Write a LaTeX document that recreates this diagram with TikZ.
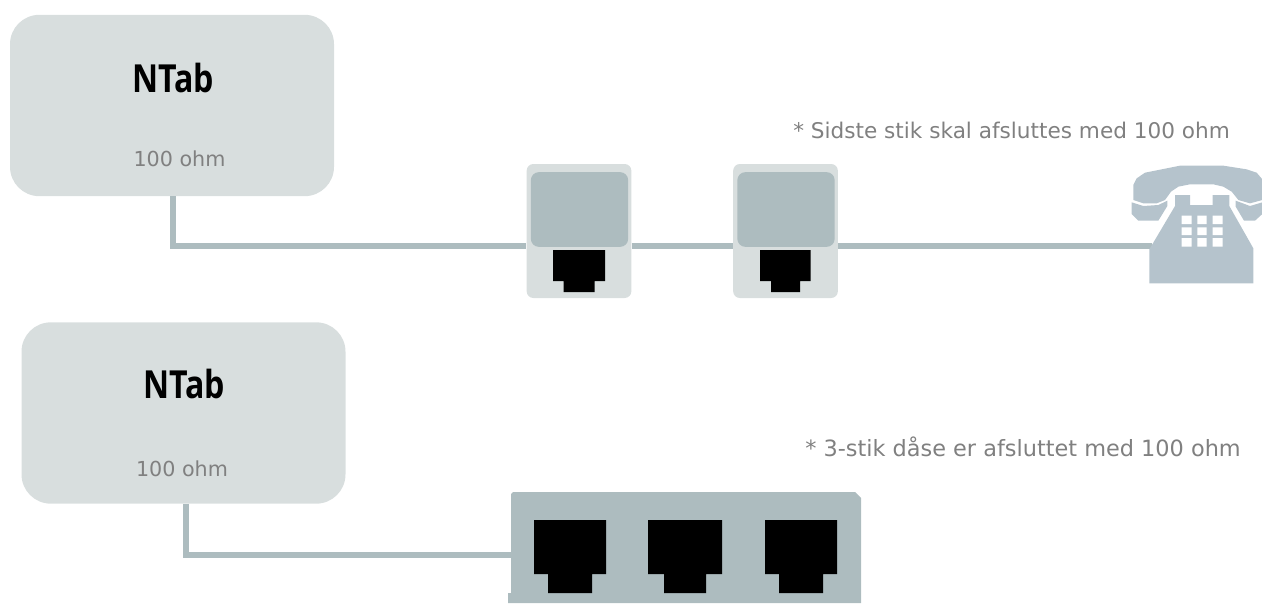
\documentclass[tikz,border=0pt]{standalone}
\usepackage{fontspec}
\setmainfont{DejaVu Sans}
\newfontfamily\titlefont[FakeStretch=0.83]{Open Sans}
\definecolor{boxlight}{HTML}{D8DEDE}
\definecolor{boxdark}{HTML}{ADBCBF}
\definecolor{phonecol}{HTML}{B5C3CC}
\definecolor{txtgray}{HTML}{808080}
\tikzset{
  x=0.75pt,y=-0.75pt,
  ntabbox/.style={fill=boxlight,draw=none,rounded corners=22pt,minimum width=243pt,minimum height=136pt,inner sep=0pt},
  jackbox/.style={fill=boxlight,draw=none,rounded corners=5pt,minimum width=78.5pt,minimum height=100.5pt,inner sep=0pt},
  panel/.style={fill=boxdark,draw=none,rounded corners=6pt,minimum width=73pt,minimum height=56pt,inner sep=0pt},
  wire/.style={draw=boxdark,line width=4.5pt},
  title/.style={font=\titlefont\bfseries\fontsize{29}{32}\selectfont,text=black,inner sep=0pt,anchor=base},
  ohm/.style={font=\fontsize{15.5}{18}\selectfont,text=txtgray,inner sep=0pt,anchor=base},
  note/.style={font=\fontsize{16.2}{19}\selectfont,text=txtgray,inner sep=0pt,anchor=base west},
  noteb/.style={font=\fontsize{16.8}{19}\selectfont,text=txtgray,inner sep=0pt,anchor=base west},
  jackfill/.style={fill=black,draw=none}
}
\newcommand{\jackshape}[7]{% x1 x2 x3 x4 y1 y2 y3
  \fill[jackfill] (#1,#5) -- (#4,#5) -- (#4,#6) -- (#3,#6) -- (#3,#7) -- (#2,#7) -- (#2,#6) -- (#1,#6) -- cycle;}
\begin{document}
\begin{tikzpicture}
\useasboundingbox (0,0) rectangle (1262,603);
% nodes
\node[ntabbox] (ntabA) at (172,105.5) {};
\node[ntabbox] (ntabB) at (183.5,413) {};
\node[jackbox] (jackA) at (579,231) {};
\node[jackbox] (jackB) at (785.5,231) {};
\coordinate (cornerA) at (173,245.5);
\coordinate (cornerB) at (185.5,555);
\coordinate (phone) at (1152,245.5);
% three-socket box
\fill[boxdark] (511,494) -- (513,492) -- (855,492) -- (861,498) -- (861,603) -- (508,603) -- (508,593) -- (511,593) -- cycle;
\coordinate (multi) at (511,555);
% wires
\draw[wire] (ntabA.south -| cornerA) -- (cornerA) -- (cornerA -| jackA.west);
\draw[wire] (jackA.east |- cornerA) -- (jackB.west |- cornerA);
\draw[wire] (jackB.east |- cornerA) -- (phone);
\draw[wire] (ntabB.south -| cornerB) -- (cornerB) -- (multi);
% jack panels
\node[panel] (panelA) at (579.5,209.5) {};
\node[panel] (panelB) at (786,209.5) {};
\jackshape{553}{563.5}{594.5}{605}{250}{281}{292}
\jackshape{760}{771}{800}{810.5}{250}{281}{292}
\jackshape{534}{548}{592}{606}{520}{574}{593}
\jackshape{648}{664}{706}{722}{520}{574}{593}
\jackshape{765}{779}{823}{837}{520}{574}{593}
% telephone
\begin{scope}[shift={(1090,150)},x=0.25pt,y=-0.25pt]
\fill[phonecol] (130,150) -- (130,105) -- (140,85) -- (165,68) -- (215,58) -- (270,47) -- (400,47) -- (470,58) -- (500,68) -- (517,88) -- (517,150)
  -- (480,160) -- (445,150) -- (425,125) -- (400,110) -- (370,103) -- (300,103) -- (265,110) -- (243,125) -- (225,150) -- (200,160) -- (160,160) -- cycle;
\fill[phonecol] (125,157) -- (160,168) -- (205,165) -- (232,152) -- (232,168) -- (205,212) -- (145,212) -- (125,192) -- cycle;
\fill[phonecol] (437,152) -- (480,168) -- (517,157) -- (517,192) -- (495,212) -- (462,212) -- (437,170) -- cycle;
\fill[phonecol] (255,135) -- (300,135) -- (300,165) -- (368,165) -- (368,135) -- (418,135) -- (418,168) -- (490,295) -- (490,400) -- (178,400) -- (178,298) -- (255,168) -- cycle;
\fill[white] (275,197) rectangle (305,222) (322,197) rectangle (350,222) (368,197) rectangle (398,222)
  (275,232) rectangle (305,255) (322,232) rectangle (350,255) (368,232) rectangle (398,255)
  (275,264) rectangle (305,290) (322,264) rectangle (350,290) (368,264) rectangle (398,290);
\end{scope}
% text
\node[title] (titleA) at (173,92) {NTab};
\node[ohm] (ohmA) at (179.5,166) {100 ohm};
\node[title] (titleB) at (184,398) {NTab};
\node[ohm] (ohmB) at (182,476) {100 ohm};
\node[note] (noteA) at (793,138) {* Sidste stik skal afsluttes med 100 ohm};
\node[noteb] (noteB) at (805,456) {* 3-stik dåse er afsluttet med 100 ohm};
\end{tikzpicture}
\end{document}
